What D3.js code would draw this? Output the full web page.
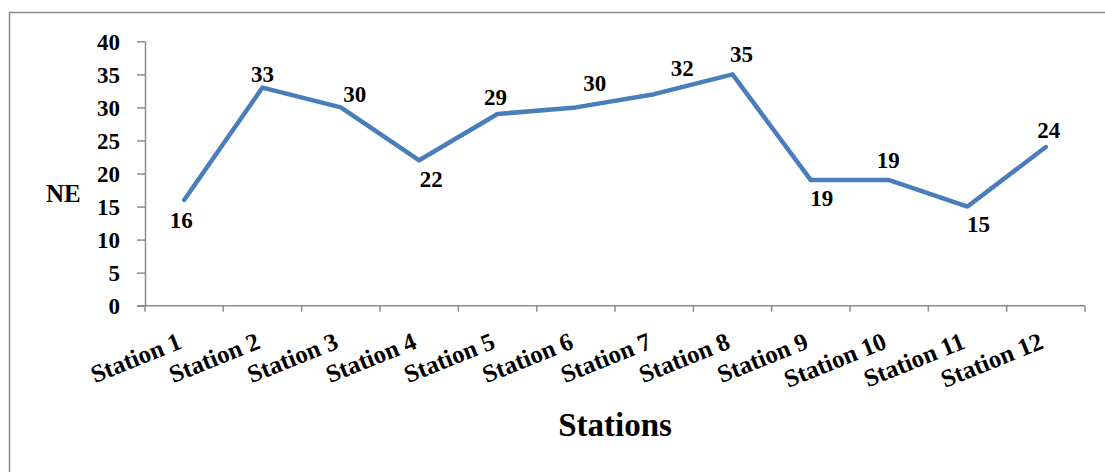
<!DOCTYPE html>
<html>
<head>
<meta charset="utf-8">
<script src="https://cdn.jsdelivr.net/npm/d3@7"></script>
<style>
  html, body { margin: 0; padding: 0; background: #fff; }
  svg { display: block; }
  text { font-family: "Liberation Serif", "Times New Roman", serif; font-weight: bold; fill: #000; }
</style>
</head>
<body>
<script>
// NE values per station
const stations = ["Station 1", "Station 2", "Station 3", "Station 4", "Station 5", "Station 6",
                  "Station 7", "Station 8", "Station 9", "Station 10", "Station 11", "Station 12"];
const neValues = [16, 33, 30, 22, 29, 30, 32, 35, 19, 19, 15, 24];
const yTicks = [0, 5, 10, 15, 20, 25, 30, 35, 40];

// Hand-placed value label offsets from each point [dx, dy] (layout only)
const labelOffsets = [[-3, 28], [0, -6], [14, -5], [12, 27], [-2, -9], [19, -16],
                      [28, -18], [9, -12], [11, 26], [-1, -12], [11, 25], [3, -9]];

const W = 1105, H = 472;
const plot = { left: 145, right: 1085, top: 41.3, bottom: 305.7 };
const axisColor = "#8c8c8c";

const svg = d3.select("body").append("svg").attr("width", W).attr("height", H);

// outer frame
svg.append("rect")
  .attr("x", 9.5).attr("y", 12.5).attr("width", 1110).attr("height", 480)
  .attr("fill", "none").attr("stroke", axisColor).attr("stroke-width", 1.5);

const x = d3.scaleBand().domain(stations).range([plot.left, plot.right]);
const y = d3.scaleLinear().domain([0, 40]).range([plot.bottom, plot.top]);

// y axis
const yAxis = svg.append("g").attr("transform", `translate(${plot.left},0)`)
  .call(d3.axisLeft(y).tickValues(yTicks).tickSize(8).tickPadding(17).tickSizeOuter(0));
yAxis.attr("font-family", null);
yAxis.select(".domain").attr("stroke", axisColor).attr("stroke-width", 1.5);
yAxis.selectAll(".tick line").attr("stroke", axisColor).attr("stroke-width", 1.5);
yAxis.selectAll(".tick text").attr("font-size", 23).attr("dy", "0.34em").attr("fill", "#000");

// x axis: ticks at category boundaries
const xg = svg.append("g").attr("transform", `translate(0,${plot.bottom})`);
xg.append("line").attr("x1", plot.left - 8).attr("x2", plot.right)
  .attr("stroke", axisColor).attr("stroke-width", 1.5);
const boundaries = stations.map(s => x(s)).concat([x(stations[stations.length - 1]) + x.bandwidth()]);
xg.selectAll("line.tk").data(boundaries).enter().append("line").attr("class", "tk")
  .attr("x1", d => d).attr("x2", d => d).attr("y1", 0).attr("y2", 6)
  .attr("stroke", axisColor).attr("stroke-width", 1.5);
xg.selectAll("text.cat").data(stations).enter().append("text").attr("class", "cat")
  .attr("font-size", 25).attr("text-anchor", "end")
  .attr("transform", d => `translate(${x(d) + x.bandwidth() / 2 - 1},${42}) rotate(-22)`)
  .text(d => d);

// axis titles
svg.append("text").attr("x", 46).attr("y", 202).attr("font-size", 25).text("NE");
svg.append("text").attr("x", (plot.left + plot.right) / 2).attr("y", 436)
  .attr("text-anchor", "middle").attr("font-size", 33).text("Stations");

// line
const cx = (d, i) => x(stations[i]) + x.bandwidth() / 2;
const line = d3.line().x((d, i) => cx(d, i)).y(d => y(d));
svg.append("path").datum(neValues).attr("d", line)
  .attr("fill", "none").attr("stroke", "#4a7ebb").attr("stroke-width", 4.5)
  .attr("stroke-linejoin", "round").attr("stroke-linecap", "round");

// value labels
svg.selectAll("text.val").data(neValues).enter().append("text").attr("class", "val")
  .attr("font-size", 23).attr("text-anchor", "middle")
  .attr("x", (d, i) => cx(d, i) + labelOffsets[i][0])
  .attr("y", (d, i) => y(d) + labelOffsets[i][1])
  .text(d => d);
</script>
</body>
</html>
